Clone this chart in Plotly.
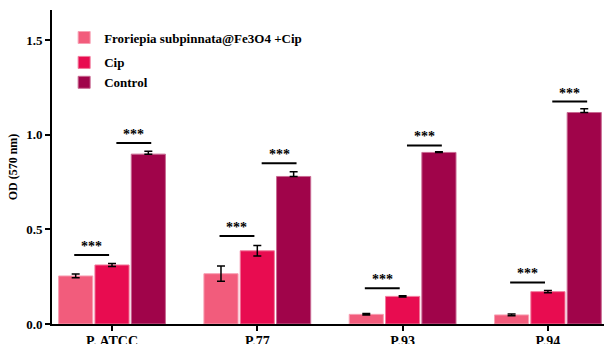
import plotly.graph_objects as go

categories = ["P. ATCC", "P.77", "P.93", "P.94"]
series_names = ["Froriepia subpinnata@Fe3O4 +Cip", "Cip", "Control"]
froriepia = [0.254, 0.266, 0.051, 0.048]
froriepia_err = [0.010, 0.040, 0.004, 0.005]
cip = [0.312, 0.387, 0.146, 0.171]
cip_err = [0.008, 0.028, 0.003, 0.006]
control = [0.898, 0.780, 0.907, 1.118]
control_err = [0.015, 0.025, 0.003, 0.020]
# significance bar heights: (Froriepia vs Cip), (Cip vs Control)
sig_low = [0.365, 0.465, 0.189, 0.220]
sig_high = [0.957, 0.850, 0.944, 1.176]
sig_label = "***"
y_ticks = [0.0, 0.5, 1.0, 1.5]

colors = ["#F25C7C", "#E80C50", "#A0044A"]
edge = ["#F8A0B4", "#F27A9C", "#C86A92"]
groups = ["a", "b", "b"]
font = "Liberation Serif, Times New Roman, serif"

fig = go.Figure()
vals = [froriepia, cip, control]
errs = [froriepia_err, cip_err, control_err]
for i in range(3):
    ey = dict(type="data", array=errs[i], visible=True, color="black",
              thickness=1.5, width=4)
    if i == 2:
        ey["arrayminus"] = [0] * len(categories)
        ey["symmetric"] = False
    fig.add_trace(go.Bar(
        x=categories, y=vals[i], name="<b>" + series_names[i] + "</b>",
        legendgroup=groups[i],
        marker=dict(color=colors[i], line=dict(color=edge[i], width=1)),
        error_y=ey,
    ))

shapes = []
annotations = []
for k in range(len(categories)):
    for (x0, x1, h) in [(-0.26, -0.02, sig_low[k]), (0.03, 0.27, sig_high[k])]:
        shapes.append(dict(type="line", xref="x", yref="y",
                           x0=k + x0, x1=k + x1, y0=h, y1=h,
                           line=dict(color="black", width=2)))
        annotations.append(dict(x=k + (x0 + x1) / 2, y=h, xref="x", yref="y",
                                text="<b>" + sig_label + "</b>", showarrow=False,
                                yanchor="bottom", yshift=-1,
                                font=dict(family=font, size=14, color="black")))

fig.update_layout(
    width=606, height=344,
    margin=dict(l=52, r=2, t=10, b=20),
    paper_bgcolor="white", plot_bgcolor="white",
    barmode="group", bargap=0.25, bargroupgap=0.06,
    font=dict(family=font, color="black"),
    shapes=shapes, annotations=annotations,
    showlegend=True,
    legend=dict(x=0.022, y=0.96, xanchor="left", yanchor="top",
                bgcolor="rgba(0,0,0,0)", itemwidth=30,
                font=dict(family=font, size=13, color="black"),
                tracegroupgap=5),
    xaxis=dict(range=[-0.413, 3.386], showline=True, linecolor="black",
               linewidth=2, ticks="outside", ticklen=5, tickwidth=1.5,
               tickcolor="black", automargin=False, ticklabelstandoff=-2,
               tickfont=dict(family=font, size=14, color="black"),
               tickvals=categories,
               ticktext=["<b>" + c + "</b>" for c in categories]),
    yaxis=dict(range=[0, 1.66], showline=True, linecolor="black", linewidth=2,
               ticks="outside", ticklen=5, tickwidth=1.5, tickcolor="black",
               showgrid=False, zeroline=False, automargin=False,
               tickvals=y_ticks,
               ticktext=["<b>%.1f</b>" % v for v in y_ticks],
               tickfont=dict(family=font, size=13, color="black"),
               title=dict(text="<b>OD (570 nm)</b>", standoff=6,
                          font=dict(family=font, size=12, color="black"))),
)
fig.write_html("out.html", config={"displayModeBar": False},
               post_script="document.body.style.margin='0px';document.body.style.overflow='hidden';")
